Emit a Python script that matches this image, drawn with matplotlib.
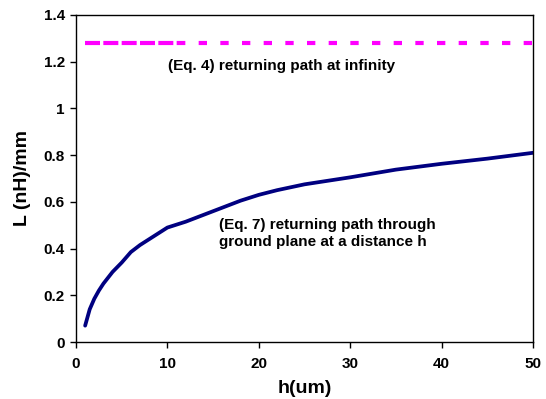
import matplotlib
matplotlib.use("Agg")
import matplotlib.pyplot as plt

# Data
h_vals = [1, 1.5, 2, 2.5, 3, 4, 5, 6, 7, 8, 9, 10, 12, 14, 16, 18, 20, 22, 25, 30, 35, 40, 45, 50]
L_eq7 = [0.07, 0.14, 0.185, 0.22, 0.25, 0.30, 0.34, 0.385, 0.415, 0.44, 0.465, 0.49, 0.515, 0.545, 0.575, 0.605, 0.63, 0.65, 0.675, 0.705, 0.738, 0.763, 0.785, 0.81]
h_inf = [1, 11, 50]
L_inf = [1.28, 1.28, 1.28]

x_ticks = [0, 10, 20, 30, 40, 50]
y_ticks = [0, 0.2, 0.4, 0.6, 0.8, 1, 1.2, 1.4]
y_tick_labels = ["0", "0.2", "0.4", "0.6", "0.8", "1", "1.2", "1.4"]

label_eq4 = "(Eq. 4) returning path at infinity"
label_eq7 = "(Eq. 7) returning path through\nground plane at a distance h"

plt.rcParams['font.family'] = ['Liberation Sans', 'DejaVu Sans']

fig = plt.figure(figsize=(5.46, 3.99), dpi=100)
ax = fig.add_axes([76/546, 1 - 342/399, (533-76)/546, (342-15)/399])

# Magenta dashed line (dense first part, sparse after)
ax.plot(h_inf[0:2], L_inf[0:2], color='#FF00FF', lw=3.0,
        dashes=(3.6, 0.8), solid_capstyle='butt', dash_capstyle='butt')
ax.plot(h_inf[1:3], L_inf[1:3], color='#FF00FF', lw=3.0,
        dashes=(2.0, 3.2), solid_capstyle='butt', dash_capstyle='butt')

ax.plot(h_vals, L_eq7, color='#000080', lw=2.7, solid_capstyle='round')

ax.set_xlim(0, 50)
ax.set_ylim(0, 1.4)
ax.set_xticks(x_ticks)
ax.set_xticklabels([str(v) for v in x_ticks], fontsize=11, fontweight='bold')
ax.set_yticks(y_ticks)
ax.set_yticklabels(y_tick_labels, fontsize=11, fontweight='bold')
ax.tick_params(direction='out', length=4, width=1)
ax.tick_params(axis='x', pad=7)
ax.tick_params(axis='y', pad=4)

for s in ax.spines.values():
    s.set_linewidth(1.0)
    s.set_color('black')

ax.set_xlabel("h(um)", fontsize=14, fontweight='bold', labelpad=6)
ax.set_ylabel("L (nH)/mm", fontsize=14, fontweight='bold', labelpad=9)

ax.text(10.1, 1.18, label_eq4, fontsize=11, fontweight='bold', va='center', ha='left')
ax.text(15.7, 0.465, label_eq7, fontsize=11, fontweight='bold', va='center', ha='left',
        linespacing=1.3)

fig.savefig("out.png", dpi=100)
